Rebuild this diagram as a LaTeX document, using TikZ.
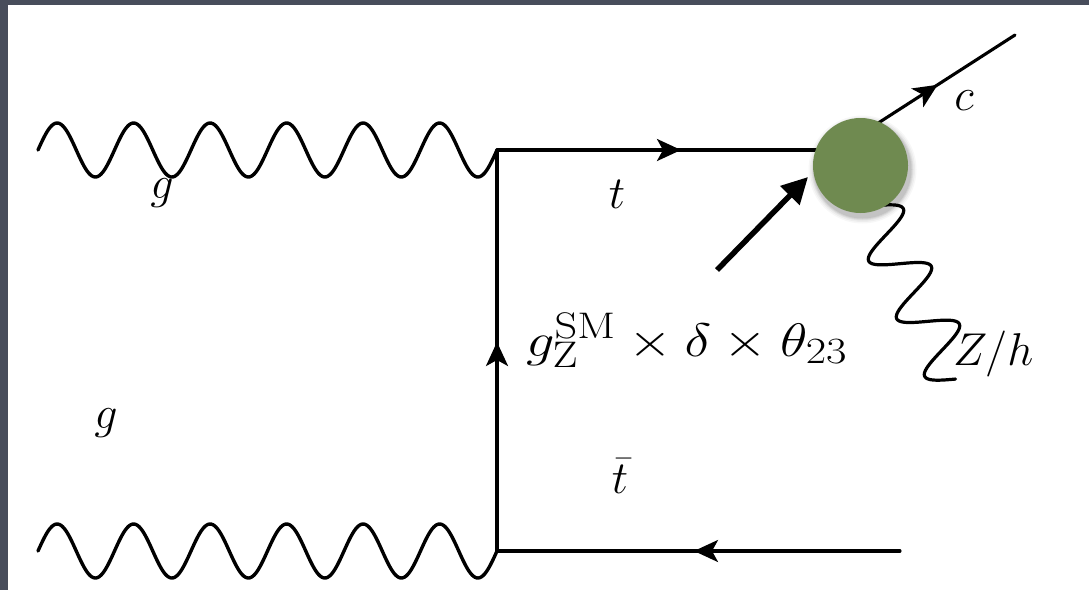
\RequirePackage{fix-cm}
\documentclass[tikz,border=0pt]{standalone}
\usepackage{graphicx}
\usetikzlibrary{arrows.meta,decorations.markings,calc}
\definecolor{framegray}{RGB}{72,77,91}
\definecolor{blobgreen}{RGB}{111,138,80}
\DeclareMathSizes{47}{47}{37}{27}
\DeclareMathSizes{46}{46}{32}{23}
\tikzset{
  wave/.style n args={2}{to path={
    let \p1=(\tikztostart), \p2=(\tikztotarget),
        \n1={veclen(\x2-\x1,\y2-\y1)} in
    plot[domain=0:1, samples=300, smooth, variable=\t]
      ({\x1+(\x2-\x1)*\t - #2*sin(#1*360*\t)*(\y2-\y1)/\n1},
       {\y1+(\y2-\y1)*\t + #2*sin(#1*360*\t)*(\x2-\x1)/\n1})}},
  gluon/.style={line width=3.4pt, line cap=round, wave={6}{27}},
  photon/.style={line width=3.2pt, line cap=round, wave={3}{27}},
  fermion/.style={line width=3.1pt, line cap=round,
    decoration={markings, mark=at position #1 with {\arrow{Stealth[length=24pt,width=22pt,inset=6pt]}}},
    postaction={decorate}},
  lbl/.style={inner sep=0pt, font=\fontsize{46}{50}\selectfont},
  bigarrow/.style={line width=5.5pt, -{Triangle[length=26pt,width=26pt]}},
}
\begin{document}
\begin{tikzpicture}[x=1pt,y=-1pt]
\fill[framegray] (0,0) rectangle (1089,590);
\fill[white] (8,5) rectangle (1089,590);
\useasboundingbox (0,0) rectangle (1089,590);

\coordinate (g1s) at (38,150);
\coordinate (v1) at (497,150);
\coordinate (g2s) at (38,551);
\coordinate (v2) at (497,551);
\coordinate (tend) at (835,150);
\coordinate (tbs) at (900,551);
\coordinate (cs) at (872,127);
\coordinate (ce) at (1015,35);
\coordinate (zs) at (872,206);
\coordinate (ze) at (956,379);
\coordinate (ba1) at (717,270);
\coordinate (ba2) at (808,177);

\draw[gluon] (g1s) to (v1);
\draw[gluon] (g2s) to (v2);
\draw[fermion=184pt] (v1) -- (tend);
\draw[fermion=209pt] (v2) -- (v1);
\draw[fermion=206pt] (tbs) -- (v2);
\draw[fermion=78pt] (cs) -- (ce);
\draw[photon] (zs) to (ze);

\foreach \r/\o in {54/0.03,52.5/0.04,51/0.05,50/0.06,49/0.07}
  \fill[black,opacity=\o] (862.5,169.5) circle[radius=\r pt];
\node[circle, fill=blobgreen, minimum size=95pt, inner sep=0pt] (blob) at (860.5,165.5) {};

\draw[bigarrow] (ba1) -- (ba2);

\node[lbl, anchor=base] (lg1) at (162,198) {$g$};
\node[lbl, anchor=base] (lg2) at (106,428) {$g$};
\node[lbl, anchor=base] (lt) at (617,208) {$t$};
\node[lbl, anchor=base] (ltb) at (620,493) {$\bar t$};
\node[lbl, anchor=base] (lc) at (964,110) {$c$};
\node[lbl, anchor=base west] (lzh) at (953,365) {$Z/h$};
\node[inner sep=0pt, anchor=base west, font=\fontsize{47}{50}\selectfont] (lf) at (526,356)
  {\scalebox{1.2}[1]{$g_{\mathrm{Z}}^{\mathrm{SM}}\times\delta\times\theta_{23}$}};
\end{tikzpicture}
\end{document}
